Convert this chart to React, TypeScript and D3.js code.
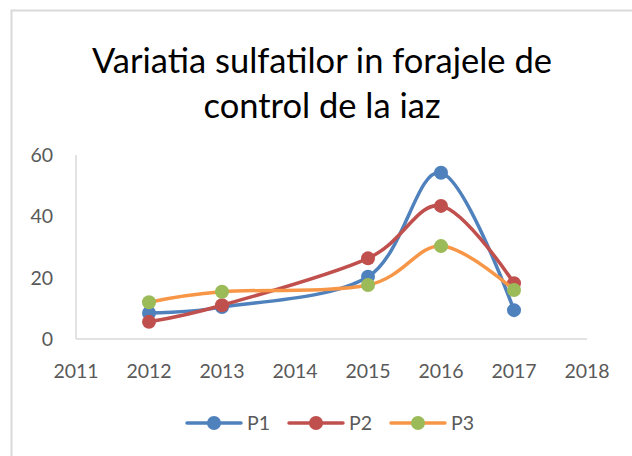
import React, { useEffect, useRef } from 'react';
import * as d3 from 'd3';

const years = [2012, 2013, 2015, 2016, 2017];
const p1 = [8.5, 10.4, 20.3, 54.2, 9.4];
const p2 = [5.6, 11.0, 26.3, 43.4, 18.2];
const p3 = [12.0, 15.4, 17.6, 30.3, 16.0];
const seriesNames = ['P1', 'P2', 'P3'];
const xTicks = [2011, 2012, 2013, 2014, 2015, 2016, 2017, 2018];
const yTicks = [0, 20, 40, 60];
const titleLines = ['Variatia sulfatilor in forajele de', 'control de la iaz'];

function App() {
    const svgRef = useRef(null);

    useEffect(() => {
        const svg = d3.select(svgRef.current);
        svg.selectAll('*').remove();

        const font = 'Lato, "Open Sans", sans-serif';
        const lineColors = ['#4F81BD', '#C0504D', '#F79646'];
        const markerColors = ['#4F81BD', '#C0504D', '#9BBB59'];
        const allSeries = [p1, p2, p3];

        // chart area border (top + left only visible)
        svg.append('rect')
            .attr('x', 11.5).attr('y', 10.5)
            .attr('width', 700).attr('height', 500)
            .attr('fill', 'white')
            .attr('stroke', '#d9d9d9')
            .attr('stroke-width', 2);

        // title
        svg.append('g').selectAll('text')
            .data(titleLines)
            .join('text')
            .attr('x', 322)
            .attr('y', (d, i) => 73 + i * 45)
            .attr('text-anchor', 'middle')
            .attr('font-family', font)
            .attr('font-size', 34.5)
            .attr('fill', '#000')
            .text(d => d);

        const x = d3.scaleLinear().domain([2011, 2018]).range([76, 587]);
        const y = d3.scaleLinear().domain([0, 60]).range([339, 155]);

        // axes lines
        svg.append('line')
            .attr('x1', x(2011)).attr('x2', x(2018))
            .attr('y1', y(0)).attr('y2', y(0))
            .attr('stroke', '#d9d9d9').attr('stroke-width', 1.5);
        svg.append('line')
            .attr('x1', x(2011)).attr('x2', x(2011))
            .attr('y1', y(0)).attr('y2', y(60))
            .attr('stroke', '#d9d9d9').attr('stroke-width', 1.5);

        svg.append('g').selectAll('text')
            .data(yTicks)
            .join('text')
            .attr('x', 53)
            .attr('y', d => y(d))
            .attr('dy', '0.36em')
            .attr('text-anchor', 'end')
            .attr('font-family', font)
            .attr('font-size', 19.5)
            .attr('fill', '#595959')
            .text(d => d);

        svg.append('g').selectAll('text')
            .data(xTicks)
            .join('text')
            .attr('x', d => x(d))
            .attr('y', 378)
            .attr('text-anchor', 'middle')
            .attr('font-family', font)
            .attr('font-size', 19.5)
            .attr('fill', '#595959')
            .text(d => d);

        const line = d3.line()
            .x(d => x(d[0]))
            .y(d => y(d[1]))
            .curve(d3.curveCardinal.tension(0));

        allSeries.forEach((vals, i) => {
            const pts = years.map((yr, j) => [yr, vals[j]]);
            svg.append('path')
                .datum(pts)
                .attr('fill', 'none')
                .attr('stroke', lineColors[i])
                .attr('stroke-width', 3.5)
                .attr('stroke-linecap', 'round')
                .attr('d', line);
            svg.append('g').selectAll('circle')
                .data(pts)
                .join('circle')
                .attr('cx', d => x(d[0]))
                .attr('cy', d => y(d[1]))
                .attr('r', 7)
                .attr('fill', markerColors[i]);
        });

        // legend
        const legend = svg.append('g');
        seriesNames.forEach((name, i) => {
            const lx = 187 + i * 102;
            const ly = 423;
            legend.append('line')
                .attr('x1', lx).attr('x2', lx + 54)
                .attr('y1', ly).attr('y2', ly)
                .attr('stroke', lineColors[i])
                .attr('stroke-width', 3.5)
                .attr('stroke-linecap', 'round');
            legend.append('circle')
                .attr('cx', lx + 27).attr('cy', ly)
                .attr('r', 7)
                .attr('fill', markerColors[i]);
            legend.append('text')
                .attr('x', lx + 60)
                .attr('y', ly)
                .attr('dy', '0.36em')
                .attr('font-family', font)
                .attr('font-size', 19.5)
                .attr('fill', '#595959')
                .text(name);
        });
    }, []);

    return (
        <svg ref={svgRef} width={632} height={456}
            style={{ position: 'absolute', left: 0, top: 0, background: 'white' }} />
    );
}

export default App;
